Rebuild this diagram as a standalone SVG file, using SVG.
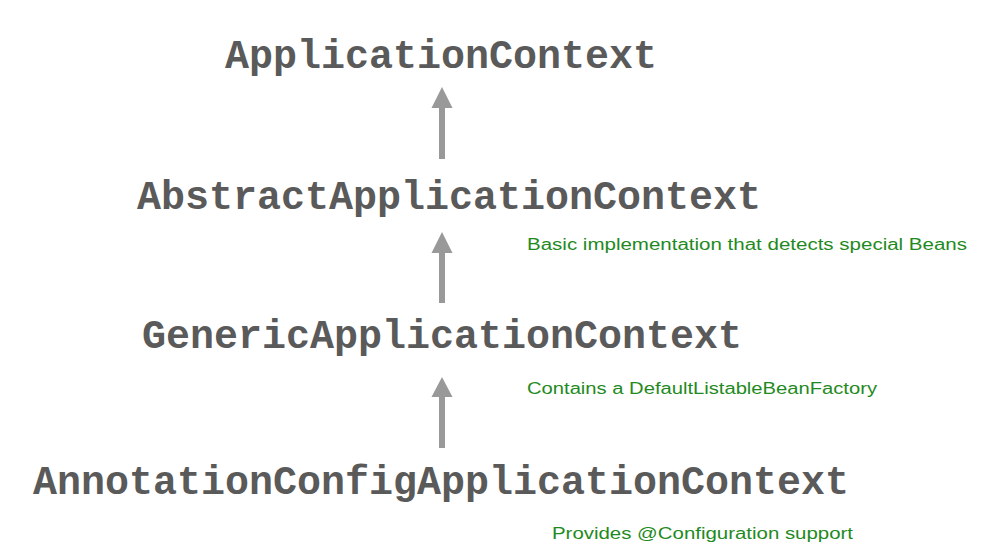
<svg xmlns="http://www.w3.org/2000/svg" width="996" height="556" viewBox="0 0 996 556">
<defs>
<style>
.cls{font-family:"Liberation Mono","Courier New",monospace;font-weight:bold;font-size:40px;fill:#5a5a5a;}
.note{font-family:"Liberation Sans",Arial,sans-serif;font-size:16px;fill:#1f8a22;}
.shaft{stroke:#999999;stroke-width:6;fill:none;}
.head{fill:#999999;}
</style>
</defs>
<rect width="996" height="556" fill="#ffffff"/>
<g id="connectors">
<line class="shaft" x1="442" y1="159" x2="442" y2="106"/>
<polygon class="head" points="442,87 452.5,108 431.5,108"/>
<line class="shaft" x1="442" y1="303" x2="442" y2="251"/>
<polygon class="head" points="442,232 452.5,253 431.5,253"/>
<line class="shaft" x1="442" y1="448" x2="442" y2="395"/>
<polygon class="head" points="442,377 452.5,397 431.5,397"/>
</g>
<g id="node-applicationcontext">
<text class="cls" x="225" y="68" textLength="432" lengthAdjust="spacingAndGlyphs">ApplicationContext</text>
</g>
<g id="node-abstractapplicationcontext">
<text class="cls" x="137" y="209" textLength="624" lengthAdjust="spacingAndGlyphs">AbstractApplicationContext</text>
<text class="note" x="527" y="250" textLength="440" lengthAdjust="spacingAndGlyphs">Basic implementation that detects special Beans</text>
</g>
<g id="node-genericapplicationcontext">
<text class="cls" x="142" y="348" textLength="600" lengthAdjust="spacingAndGlyphs">GenericApplicationContext</text>
<text class="note" x="527" y="394" textLength="350" lengthAdjust="spacingAndGlyphs">Contains a DefaultListableBeanFactory</text>
</g>
<g id="node-annotationconfigapplicationcontext">
<text class="cls" x="33" y="494" textLength="816" lengthAdjust="spacingAndGlyphs">AnnotationConfigApplicationContext</text>
<text class="note" x="552" y="539" textLength="301" lengthAdjust="spacingAndGlyphs">Provides @Configuration support</text>
</g>
</svg>
